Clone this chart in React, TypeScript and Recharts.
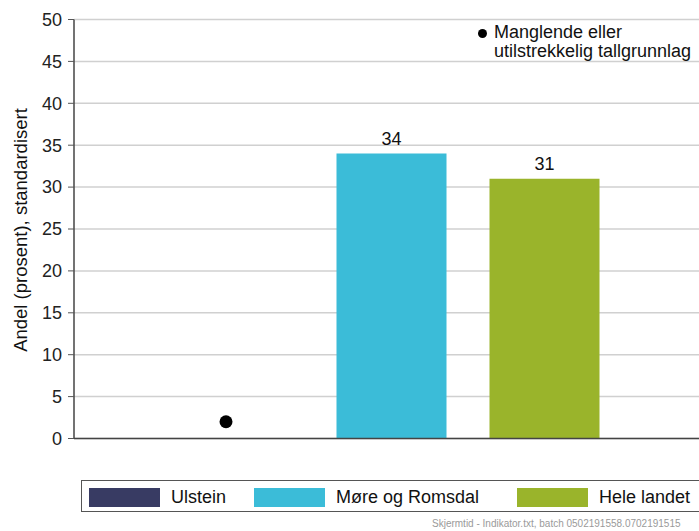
import React from "react";
import { ComposedChart, Bar, Scatter, XAxis, YAxis, CartesianGrid, Cell, LabelList } from "recharts";

const categories = ["Ulstein", "Møre og Romsdal", "Hele landet"];
const values: (number | null)[] = [null, 34, 31];
const missingMarker: (number | null)[] = [2, null, null];
const yTicks = [0, 5, 10, 15, 20, 25, 30, 35, 40, 45, 50];
const yLabel = "Andel (prosent), standardisert";
const noteLines = ["Manglende eller", "utilstrekkelig tallgrunnlag"];
const footer = "Skjermtid - Indikator.txt, batch 0502191558.0702191515";

const COLORS = ["#383b63", "#3bbcd8", "#9ab42b"];
const LEGEND_LEFT = [7, 172, 435];
const FONT = "'Liberation Sans', Arial, sans-serif";

const data = categories.map((c, i) => ({ name: c, value: values[i], missing: missingMarker[i] }));

const DotShape = (props: any) => {
  const { cx, cy } = props;
  if (cx == null || cy == null) return null;
  return <circle cx={cx - 12} cy={cy} r={6.5} fill="#000" />;
};

export default function App() {
  return (
    <div style={{ position: "absolute", left: 0, top: 0, width: 699, height: 531, overflow: "hidden", background: "#fff", fontFamily: FONT }}>
      <ComposedChart
        width={699}
        height={531}
        data={data}
        margin={{ top: 19.5, right: 0, bottom: 91.5, left: 14 }}
        barCategoryGap={0}
      >
        <CartesianGrid vertical={false} stroke="#d0d0d0" strokeWidth={1.5} />
        <XAxis
          dataKey="name"
          height={1}
          tick={false}
          tickLine={false}
          axisLine={{ stroke: "#444", strokeWidth: 1.5 }}
          padding={{ left: 87.5, right: 78.5 }}
        />
        <YAxis
          width={60}
          domain={[0, 50]}
          ticks={yTicks}
          interval={0}
          tickSize={6}
          tickMargin={6}
          tickLine={{ stroke: "#555" }}
          axisLine={{ stroke: "#444", strokeWidth: 1.5 }}
          tick={{ fontSize: 18, fill: "#222", fontFamily: FONT }}
          label={{
            content: () => (
              <text
                x={20}
                y={230}
                transform="rotate(-90 20 230)"
                textAnchor="middle"
                dominantBaseline="central"
                fontSize={18.5}
                fill="#111"
                fontFamily={FONT}
              >
                {yLabel}
              </text>
            ),
          }}
        />
        <Bar dataKey="value" barSize={110} isAnimationActive={false}>
          {data.map((d, i) => (
            <Cell key={d.name} fill={COLORS[i]} />
          ))}
          <LabelList dataKey="value" position="top" offset={9} fontSize={18} fill="#111" fontFamily={FONT} />
        </Bar>
        <Scatter dataKey="missing" shape={<DotShape />} isAnimationActive={false} />
      </ComposedChart>

      <div style={{ position: "absolute", left: 478, top: 29, width: 9, height: 9, borderRadius: "50%", background: "#000" }} />
      <div style={{ position: "absolute", left: 494, top: 23, fontSize: 18, lineHeight: "19px", color: "#111", whiteSpace: "nowrap" }}>
        {noteLines.map((l) => (
          <div key={l}>{l}</div>
        ))}
      </div>

      <div
        style={{
          position: "absolute",
          left: 81,
          top: 480,
          width: 640,
          height: 32,
          border: "1.5px solid #555",
          boxSizing: "border-box",
        }}
      >
        {categories.map((c, i) => (
          <div key={c} style={{ position: "absolute", left: LEGEND_LEFT[i], top: 5.5, display: "flex", alignItems: "center" }}>
            <div style={{ width: 71, height: 19, background: COLORS[i] }} />
            <span style={{ marginLeft: 11, fontSize: 18, color: "#111", whiteSpace: "nowrap" }}>{c}</span>
          </div>
        ))}
      </div>

      <div style={{ position: "absolute", left: 432, top: 518, fontSize: 10, color: "#9a9a9a", whiteSpace: "nowrap" }}>{footer}</div>
    </div>
  );
}
